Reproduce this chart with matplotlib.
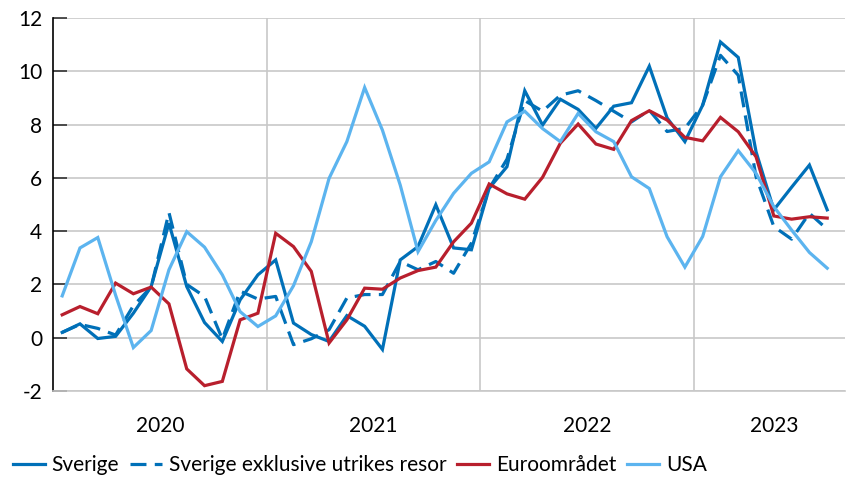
import matplotlib
matplotlib.use("Agg")
import matplotlib.pyplot as plt
import numpy as np

plt.rcParams['font.family'] = ['Lato', 'DejaVu Sans']

years = ["2020", "2021", "2022", "2023"]
yticks = [-2, 0, 2, 4, 6, 8, 10, 12]

sverige = [0.2, 0.52, -0.03, 0.05, 0.92, 1.92, 4.3, 1.92, 0.57, -0.14, 1.42, 2.36,
           2.92, 0.55, 0.12, -0.14, 0.83, 0.43, -0.44, 2.92, 3.42, 4.99, 3.37, 3.3,
           5.61, 6.42, 9.27, 7.98, 8.95, 8.57, 7.86, 8.69, 8.82, 10.19, 8.25, 7.36,
           8.73, 11.1, 10.52, 6.98, 4.8, 5.65, 6.48, 4.8]
sverige_exkl = [0.2, 0.5, 0.35, 0.1, 1.2, 1.9, 4.7, 2.0, 1.55, -0.05, 1.75, 1.45,
                1.55, -0.26, -0.04, 0.3, 1.49, 1.62, 1.62, 2.86, 2.55, 2.86, 2.42, 3.55,
                5.6, 6.7, 8.9, 8.5, 9.1, 9.27, 8.9, 8.5, 8.1, 8.54, 7.74, 7.86,
                8.73, 10.6, 9.85, 6.04, 4.17, 3.7, 4.67, 4.07]
euro = [0.86, 1.17, 0.9, 2.05, 1.65, 1.9, 1.27, -1.17, -1.8, -1.64, 0.67, 0.92,
        3.92, 3.42, 2.49, -0.2, 0.67, 1.86, 1.82, 2.24, 2.52, 2.65, 3.6, 4.3,
        5.77, 5.4, 5.2, 6.02, 7.3, 8.02, 7.27, 7.07, 8.15, 8.52, 8.17, 7.52,
        7.39, 8.27, 7.73, 6.79, 4.57, 4.45, 4.54, 4.49]
usa = [1.57, 3.37, 3.76, 1.6, -0.37, 0.27, 2.55, 3.98, 3.4, 2.36, 0.98, 0.42,
       0.82, 1.95, 3.6, 5.98, 7.36, 9.39, 7.79, 5.73, 3.23, 4.4, 5.42, 6.17,
       6.6, 8.1, 8.5, 7.85, 7.36, 8.42, 7.73, 7.36, 6.04, 5.6, 3.79, 2.65,
       3.8, 6.04, 7.02, 6.17, 4.92, 4.04, 3.2, 2.61]

c_dark = '#0070b8'
c_red = '#b81f2d'
c_light = '#5cb4ef'

fs = 15

fig = plt.figure(figsize=(8.46, 4.82), dpi=100)
ax = fig.add_axes([53.3/846, 1-391/482, (845-53.3)/846, (391-18)/482])

x = np.arange(len(sverige))
lw = 2.3
ax.plot(x, sverige, color=c_dark, lw=lw, label='Sverige', solid_joinstyle='miter')
ax.plot(x, sverige_exkl, color=c_dark, lw=lw, dashes=(5, 2.6), label='Sverige exklusive utrikes resor')
ax.plot(x, euro, color=c_red, lw=lw, label='Euroområdet', solid_joinstyle='miter')
ax.plot(x, usa, color=c_light, lw=lw, label='USA', solid_joinstyle='miter')

ax.set_xlim(-0.5, 44.0)
ax.set_ylim(-2, 12)
ax.set_yticks(yticks)
ax.set_yticklabels([str(t) for t in yticks], fontsize=fs)
ax.yaxis.grid(True, color='#c8c8c8', lw=1.2)
ax.set_axisbelow(True)
for b in [11.5, 23.5, 35.5]:
    ax.axvline(b, color='#c8c8c8', lw=1.2, zorder=0)

ax.set_xticks([])
centers = [5.5, 17.5, 29.5, 40.0]
for c, yl in zip(centers, years):
    ax.text(c, -3.3, yl, ha='center', va='center', fontsize=fs, transform=ax.transData)

for s in ['top', 'right']:
    ax.spines[s].set_visible(False)
ax.spines['bottom'].set_color('#c8c8c8')
ax.spines['bottom'].set_linewidth(1.2)
ax.spines['left'].set_color('black')
ax.spines['left'].set_linewidth(1.2)
ax.tick_params(axis='y', direction='in', length=10, width=1.2, color='#333333', pad=8)

fig.legend(loc='lower left', bbox_to_anchor=(0.0, -0.012), ncol=4, frameon=False,
           fontsize=fs, handlelength=1.55, handletextpad=0.33, columnspacing=0.5,
           borderaxespad=0.2)

fig.savefig('out.png', dpi=100)
